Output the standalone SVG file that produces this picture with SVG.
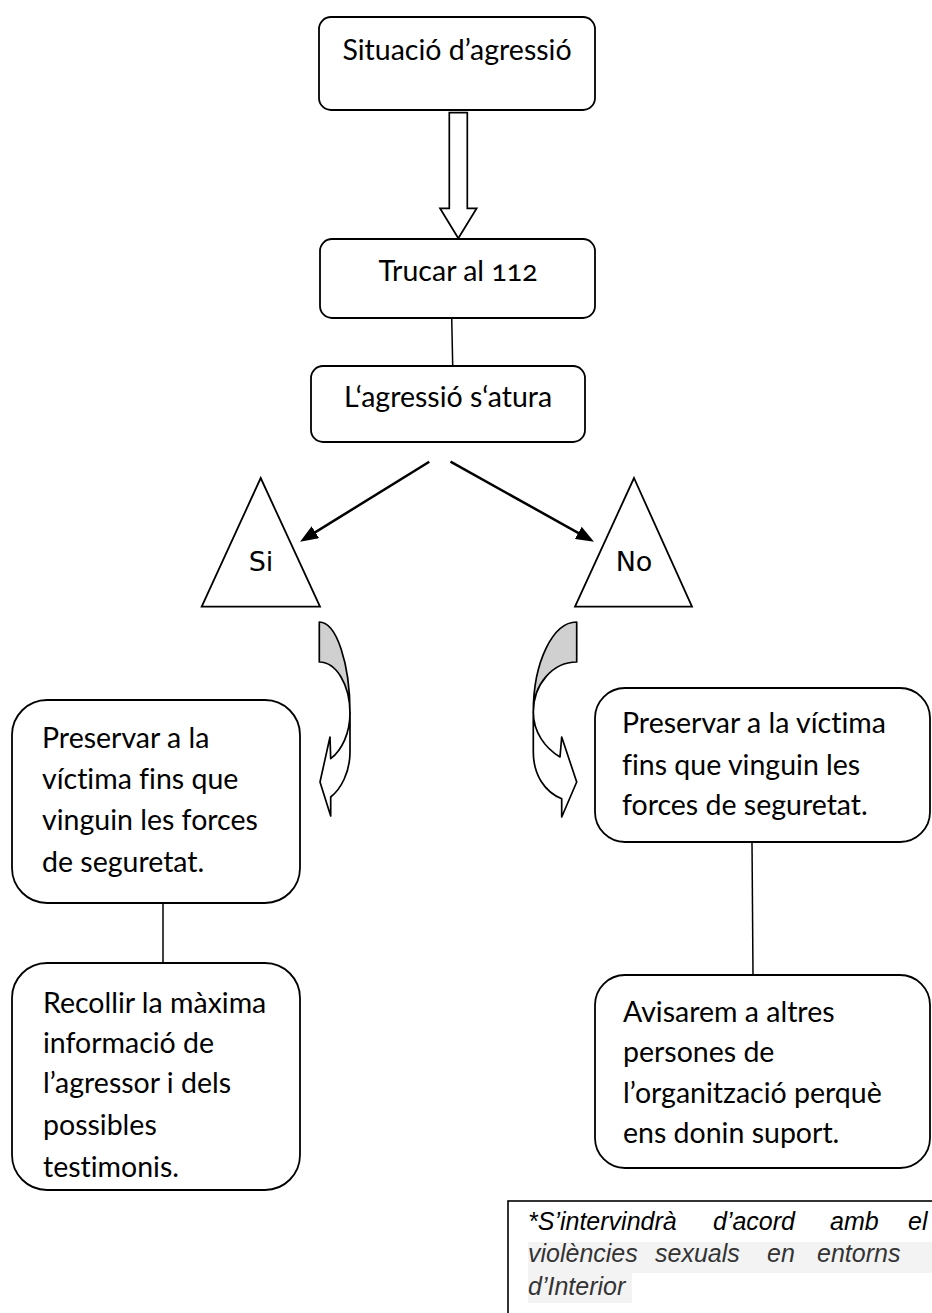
<svg xmlns="http://www.w3.org/2000/svg" width="932" height="1313" viewBox="0 0 932 1313">
  <defs>
    <marker id="ah" markerUnits="userSpaceOnUse" markerWidth="18" markerHeight="14" refX="7" refY="7" orient="auto">
      <path d="M0,0 L18,7 L0,14 Z" fill="#000"/>
    </marker>
    <style>
      .box { fill: #fff; stroke: #000; stroke-width: 1.8; }
      .t { font-family: Lato, "Liberation Sans", sans-serif; font-size: 28.5px; fill: #000; font-variant-ligatures: none; font-variant-numeric: oldstyle-nums; }
      .c { text-anchor: middle; }
      .tri { fill: #fff; stroke: #000; stroke-width: 1.8; }
      .yn { font-family: "DejaVu Sans", sans-serif; font-size: 27px; fill: #000; text-anchor: middle; }
      .ln { stroke: #000; stroke-width: 1.5; fill: none; }
      .arr { stroke: #000; stroke-width: 2.5; fill: none; }
      .ca { stroke: #000; stroke-width: 1.7; stroke-linejoin: round; }
      .note { font-family: "Liberation Sans", Arial, sans-serif; font-style: italic; font-size: 25px; }
    </style>
  </defs>

  <g id="connectors">
    <polygon points="449.3,112.7 467.3,112.7 467.3,208.3 476.7,208.3 458.3,238.3 440,208.3 449.3,208.3" fill="#fff" stroke="#000" stroke-width="1.7" stroke-linejoin="miter"/>
    <line class="ln" x1="451.7" y1="318" x2="452.7" y2="366"/>
    <line class="arr" x1="429.3" y1="461.7" x2="309.4" y2="535.9" marker-end="url(#ah)"/>
    <line class="arr" x1="450.5" y1="461.7" x2="584.4" y2="536.3" marker-end="url(#ah)"/>
    <g id="curved-left">
      <path class="ca" fill="#d0d0d0" d="M319.3,622 A30.7,91 0 0 1 350,713 A30.7,51 0 0 0 319.3,662 Z"/>
      <path class="ca" fill="#fff" d="M350,713 L350,752 C350,772 341,789 330.7,797 L330.7,816 L320,782 L330,737 L330.7,758.7 C342,750 350,733 350,713 Z"/>
    </g>
    <g id="curved-right">
      <path class="ca" fill="#d0d0d0" d="M576.7,622 A43.4,90 0 0 0 533.3,712 A43.4,50 0 0 1 576.7,662 Z"/>
      <path class="ca" fill="#fff" d="M533.3,712 L533.3,752 C533.3,775 545,792 561.7,798.7 L561.7,817 L576.7,782 L561.7,737 L560,757 C545,748 533.3,732 533.3,712 Z"/>
    </g>
    <line class="ln" x1="163" y1="903" x2="163" y2="975"/>
    <line class="ln" x1="752" y1="842" x2="753" y2="975"/>
  </g>

  <g id="n-situacio">
    <rect class="box" x="319" y="17" width="276" height="93" rx="12"/>
    <text class="t c" x="457" y="60">Situació d’agressió</text>
  </g>

  <g id="n-trucar">
    <rect class="box" x="320" y="239" width="275" height="79" rx="12"/>
    <text class="t c" x="458" y="281">Trucar al 112</text>
  </g>

  <g id="n-atura">
    <rect class="box" x="311" y="366" width="274" height="76" rx="12"/>
    <text class="t c" x="448" y="407">L‘agressió s‘atura</text>
  </g>

  <g id="n-si">
    <polygon class="tri" points="260.7,478 320,606.7 201.7,606.7"/>
    <text class="yn" x="261" y="570.7">Si</text>
  </g>

  <g id="n-no">
    <polygon class="tri" points="634,478 692,606.7 575,606.7"/>
    <text class="yn" x="634" y="570.7">No</text>
  </g>

  <g id="n-preservar-si">
    <rect class="box" x="12" y="700" width="288" height="203" rx="35"/>
    <text class="t" x="42" y="748">Preservar a la</text>
    <text class="t" x="42" y="789">víctima fins que</text>
    <text class="t" x="42" y="830">vinguin les forces</text>
    <text class="t" x="42" y="872">de seguretat.</text>
  </g>

  <g id="n-recollir">
    <rect class="box" x="12" y="963" width="288" height="227" rx="35"/>
    <text class="t" x="43" y="1013">Recollir la màxima</text>
    <text class="t" x="43" y="1053">informació de</text>
    <text class="t" x="43" y="1093">l’agressor i dels</text>
    <text class="t" x="43" y="1135">possibles</text>
    <text class="t" x="43" y="1177">testimonis.</text>
  </g>

  <g id="n-preservar-no">
    <rect class="box" x="595" y="688" width="335" height="154" rx="30"/>
    <text class="t" x="622" y="733">Preservar a la víctima</text>
    <text class="t" x="622" y="775">fins que vinguin les</text>
    <text class="t" x="622" y="815">forces de seguretat.</text>
  </g>

  <g id="n-avisarem">
    <rect class="box" x="595" y="975" width="335" height="193" rx="30"/>
    <text class="t" x="623" y="1022">Avisarem a altres</text>
    <text class="t" x="623" y="1062">persones de</text>
    <text class="t" x="623" y="1103">l’organització perquè</text>
    <text class="t" x="623" y="1143">ens donin suport.</text>
  </g>

  <g id="n-note">
    <rect x="508" y="1201" width="440" height="130" fill="#fff" stroke="#000" stroke-width="1.6"/>
    <rect x="528" y="1242" width="404" height="31" fill="#f3f3f3"/>
    <rect x="528" y="1273" width="104" height="30" fill="#f3f3f3"/>
    <text class="note" y="1230" fill="#000"><tspan x="528">*S’intervindrà</tspan><tspan x="713">d’acord</tspan><tspan x="830">amb</tspan><tspan x="908">el</tspan></text>
    <text class="note" y="1262" fill="#333"><tspan x="528">violències</tspan><tspan x="655">sexuals</tspan><tspan x="767">en</tspan><tspan x="817">entorns</tspan></text>
    <text class="note" x="528" y="1295" fill="#333">d’Interior</text>
  </g>
</svg>
